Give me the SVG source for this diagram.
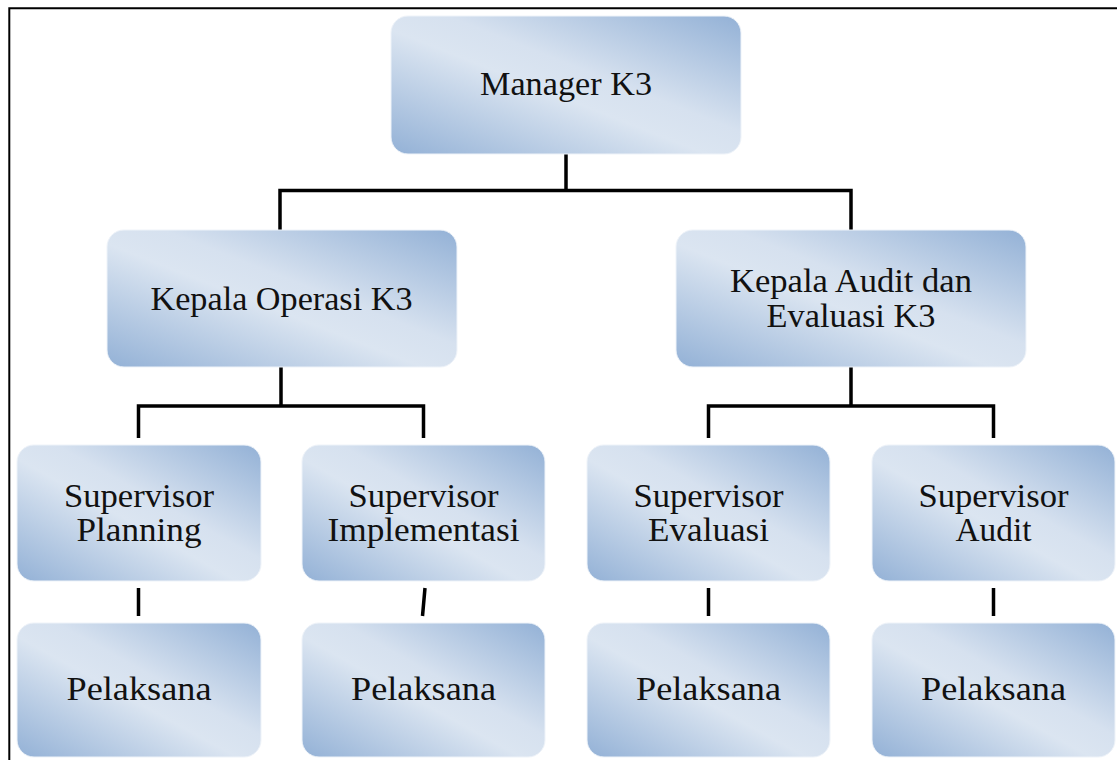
<svg xmlns="http://www.w3.org/2000/svg" width="1117" height="760" viewBox="0 0 1117 760">
<defs>
<linearGradient id="g" x1="0" y1="1" x2="1" y2="0">
<stop offset="0" stop-color="#93b1d6"/>
<stop offset="0.45" stop-color="#dbe5f1"/>
<stop offset="0.58" stop-color="#d6e1ef"/>
<stop offset="1" stop-color="#93b1d6"/>
</linearGradient>
<style>
.box{fill:url(#g);stroke:#eef3f9;stroke-width:1}
.t{font-family:"Liberation Serif","DejaVu Serif",serif;font-size:33px;fill:#111;text-anchor:middle}
.c{fill:none;stroke:#000;stroke-width:3.5}
</style>
</defs>
<rect width="1117" height="760" fill="#fff"/>
<path d="M9.3 760 V8.3 H1117" fill="none" stroke="#000" stroke-width="2"/>
<g id="connectors">
<path class="c" d="M566 153 V190.5 M280 230 V190.5 H851 V230"/>
<path class="c" d="M281 367 V406 M138.5 438 V406 H423.5 V438"/>
<path class="c" d="M851 367 V406 M708.5 438 V406 H993.5 V438"/>
<path class="c" d="M138.5 588 V616 M425 588 L422.5 616 M708.5 588 V616 M993.5 588 V616"/>
</g>
<g id="manager">
<rect class="box" x="391" y="16" width="350" height="138" rx="17"/>
<text class="t" x="566" y="95" textLength="172" lengthAdjust="spacingAndGlyphs">Manager K3</text>
</g>
<g id="kepala-operasi">
<rect class="box" x="107" y="230" width="350" height="137" rx="17"/>
<text class="t" x="281.5" y="310" textLength="262" lengthAdjust="spacingAndGlyphs">Kepala Operasi K3</text>
</g>
<g id="kepala-audit">
<rect class="box" x="676" y="230" width="350" height="137" rx="17"/>
<text class="t" x="851" y="292" textLength="242" lengthAdjust="spacingAndGlyphs">Kepala Audit dan</text>
<text class="t" x="851" y="327" textLength="169" lengthAdjust="spacingAndGlyphs">Evaluasi K3</text>
</g>
<g id="sup-planning">
<rect class="box" x="17" y="445" width="244" height="136" rx="17"/>
<text class="t" x="139" y="507" textLength="150" lengthAdjust="spacingAndGlyphs">Supervisor</text>
<text class="t" x="139" y="541" textLength="125" lengthAdjust="spacingAndGlyphs">Planning</text>
</g>
<g id="sup-implementasi">
<rect class="box" x="302" y="445" width="243" height="136" rx="17"/>
<text class="t" x="423.5" y="507" textLength="150" lengthAdjust="spacingAndGlyphs">Supervisor</text>
<text class="t" x="423.5" y="541" textLength="192" lengthAdjust="spacingAndGlyphs">Implementasi</text>
</g>
<g id="sup-evaluasi">
<rect class="box" x="587" y="445" width="243" height="136" rx="17"/>
<text class="t" x="708.5" y="507" textLength="150" lengthAdjust="spacingAndGlyphs">Supervisor</text>
<text class="t" x="708.5" y="541" textLength="121" lengthAdjust="spacingAndGlyphs">Evaluasi</text>
</g>
<g id="sup-audit">
<rect class="box" x="872" y="445" width="243" height="136" rx="17"/>
<text class="t" x="993.5" y="507" textLength="150" lengthAdjust="spacingAndGlyphs">Supervisor</text>
<text class="t" x="993.5" y="541" textLength="76" lengthAdjust="spacingAndGlyphs">Audit</text>
</g>
<g id="pelaksana-1">
<rect class="box" x="17" y="623" width="244" height="134" rx="17"/>
<text class="t" x="139" y="700" textLength="145" lengthAdjust="spacingAndGlyphs">Pelaksana</text>
</g>
<g id="pelaksana-2">
<rect class="box" x="302" y="623" width="243" height="134" rx="17"/>
<text class="t" x="423.5" y="700" textLength="145" lengthAdjust="spacingAndGlyphs">Pelaksana</text>
</g>
<g id="pelaksana-3">
<rect class="box" x="587" y="623" width="243" height="134" rx="17"/>
<text class="t" x="708.5" y="700" textLength="145" lengthAdjust="spacingAndGlyphs">Pelaksana</text>
</g>
<g id="pelaksana-4">
<rect class="box" x="872" y="623" width="243" height="134" rx="17"/>
<text class="t" x="993.5" y="700" textLength="145" lengthAdjust="spacingAndGlyphs">Pelaksana</text>
</g>
</svg>
